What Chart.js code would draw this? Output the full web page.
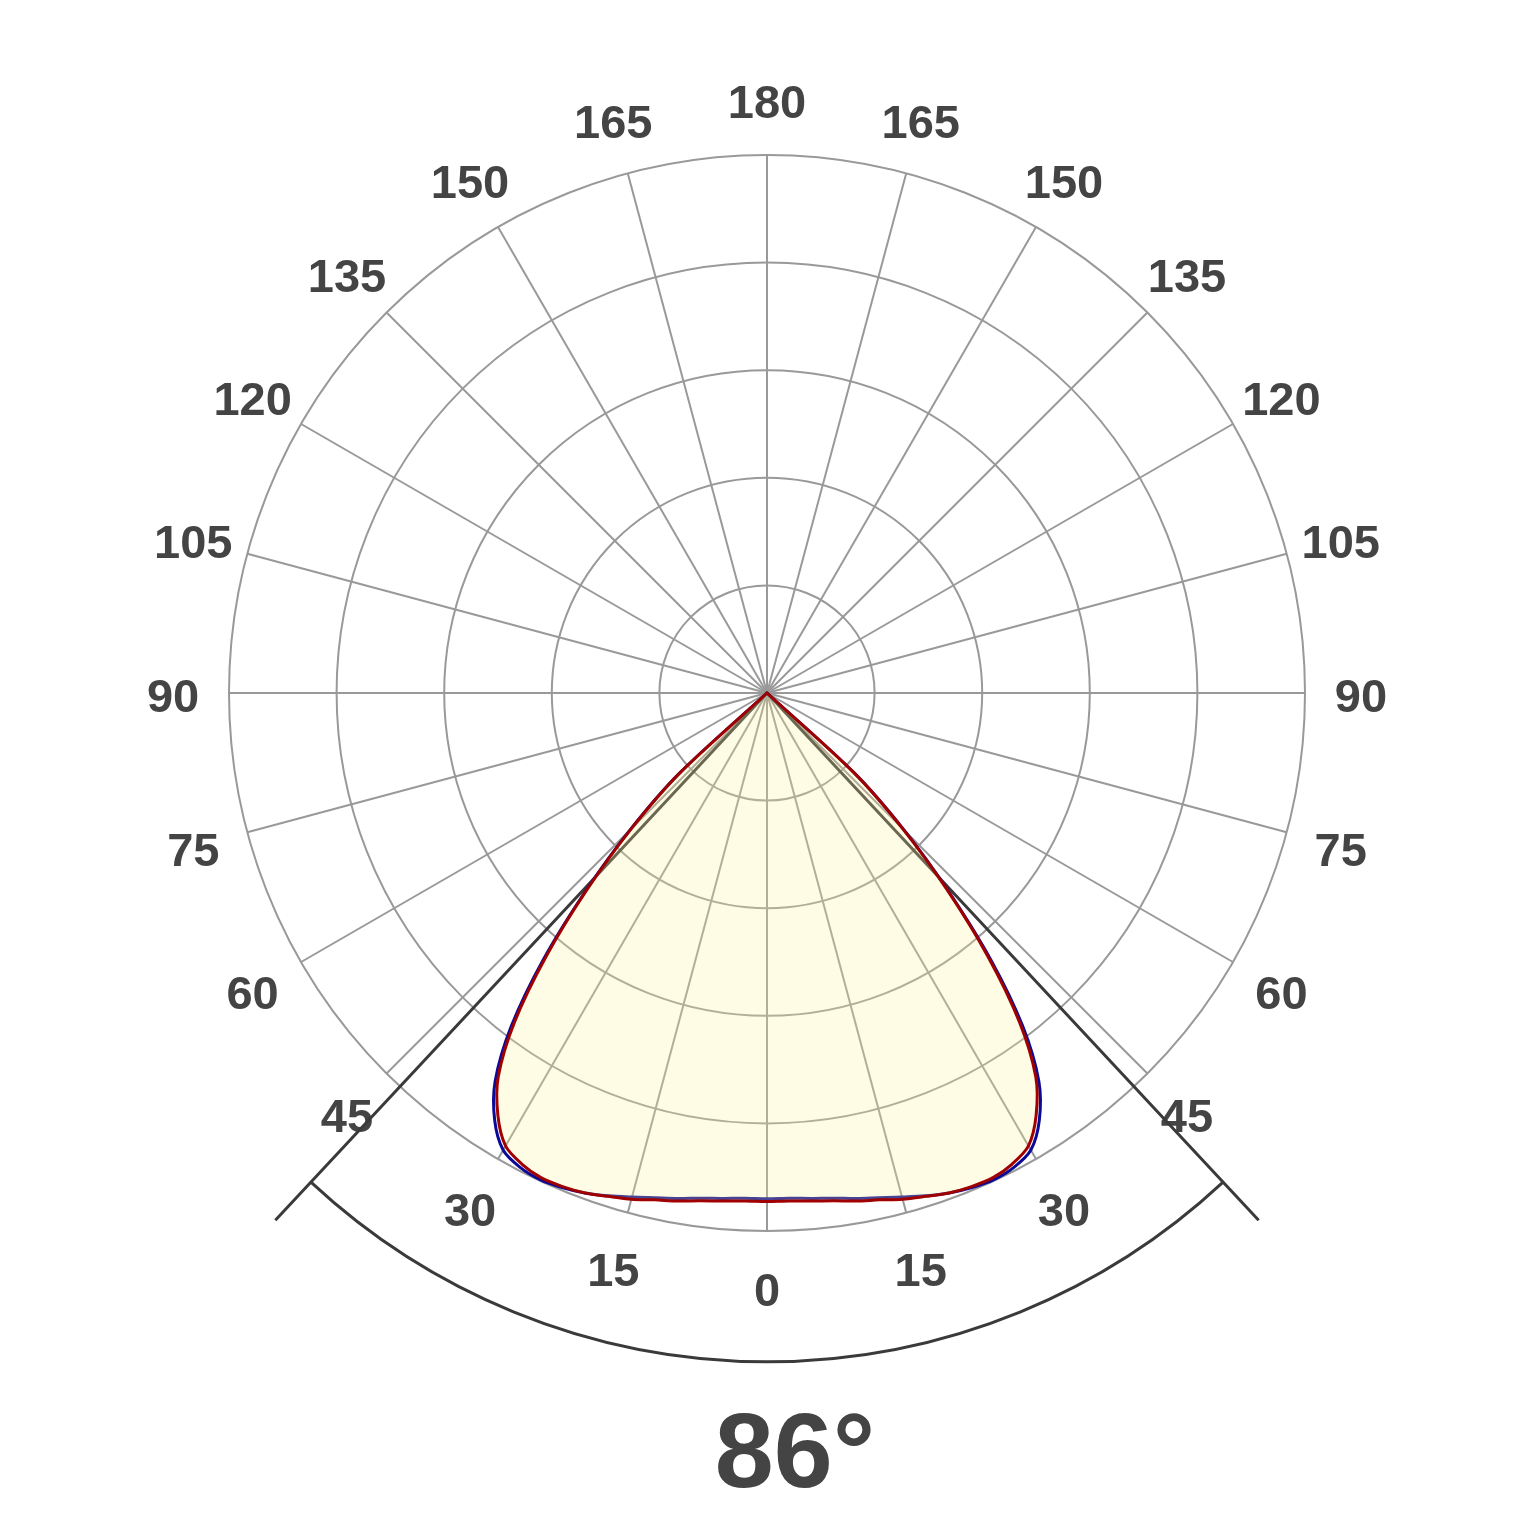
<!DOCTYPE html>
<html>
<head>
<meta charset="utf-8">
<title>Lichtverteilung</title>
<script src="https://cdn.jsdelivr.net/npm/chart.js@4.4.1/dist/chart.umd.min.js"></script>
<style>
  html, body { margin: 0; padding: 0; background: #fff; }
  canvas { display: block; }
</style>
</head>
<body>
<canvas id="myChart" width="1536" height="1536"></canvas>
<script>
// gamma (deg from nadir) and intensity, 100 = outer ring
var gamma = [0, 2.5, 5, 7.5, 10, 12.5, 15, 17.5, 20, 22.5, 25, 27.5, 30, 32.5, 35, 37.5, 40, 42.5, 45, 47.5, 50];
var c0 = [94.5, 94.5, 94.8, 95.2, 95.9, 96.5, 97.4, 98.1, 98.9, 99.3, 99.4, 98.7, 97.2, 93.1, 87.1, 77.1, 63.8, 49.4, 35.7, 21.9, 0];
var c90 = [94.0, 94.0, 94.3, 94.7, 95.4, 96.1, 97.0, 98.0, 98.9, 99.5, 99.8, 99.4, 98.1, 94.2, 88.1, 78.1, 64.7, 49.8, 36.1, 22.1, 0];

// spoke labels clockwise from the top, one every 15 deg
var spokeLabels = [180, 165, 150, 135, 120, 105, 90, 75, 60, 45, 30, 15, 0, 15, 30, 45, 60, 75, 90, 105, 120, 135, 150, 165];

var beamAngle = 86;

var step = 2.5;
var positions = [];
for (var a = 0; a < 360; a += step) positions.push(a);

function valueAt(series, pos) {
    var i = gamma.indexOf(Math.abs(180 - pos));
    return i >= 0 ? series[i] : 0;
}

var labels = positions.map(function (p) {
    return p % 15 === 0 ? String(spokeLabels[p / 15]) : '';
});

var labelFont = '"Liberation Sans", Arial, sans-serif';

// spoke labels, beam angle lines + arc + text
var beamPlugin = {
    id: 'beam',
    beforeDatasetsDraw: function (chart) {
        var s = chart.scales.r, c = chart.ctx;
        var R = s.drawingArea, x0 = s.xCenter, y0 = s.yCenter;
        var h = beamAngle / 2 * Math.PI / 180;
        c.save();

        // labels centred on the spokes
        c.fillStyle = '#444';
        c.font = 'bold 47px ' + labelFont;
        c.textAlign = 'center';
        c.textBaseline = 'middle';
        chart.data.labels.forEach(function (txt, i) {
            if (!txt) return;
            var p = s.getPointPosition(i, R * 1.104);
            c.fillText(txt, p.x, p.y + 6);
        });

        c.strokeStyle = '#3a3a3a';
        c.lineWidth = 3;
        c.beginPath();
        [-h, h].forEach(function (t) {
            c.moveTo(x0, y0);
            c.lineTo(x0 + Math.sin(t) * R * 1.34, y0 + Math.cos(t) * R * 1.34);
        });
        c.stroke();
        c.beginPath();
        c.arc(x0, y0, R * 1.243, Math.PI / 2 - h, Math.PI / 2 + h);
        c.stroke();
        c.restore();
    },
    afterDraw: function (chart) {
        var s = chart.scales.r, c = chart.ctx;
        c.save();
        c.fillStyle = '#444';
        c.font = 'bold 106px ' + labelFont;
        c.textAlign = 'center';
        c.textBaseline = 'alphabetic';
        c.fillText(beamAngle + '°', s.xCenter + 28, s.yCenter + s.drawingArea * 1.476);
        c.restore();
    }
};

var ctx = document.getElementById('myChart').getContext('2d');

var myChart = new Chart(ctx, {
    type: 'radar',
    data: {
        labels: labels,
        datasets: [{
            label: 'C0-C180',
            data: positions.map(function (p) { return valueAt(c0, p); }),
            borderColor: '#a00000',
            borderWidth: 3,
            backgroundColor: 'rgba(255, 245, 150, 0.25)',
            fill: true,
            pointRadius: 0,
            tension: 0.3
        }, {
            label: 'C90-C270',
            data: positions.map(function (p) { return valueAt(c90, p); }),
            borderColor: '#0a0a96',
            borderWidth: 3,
            fill: false,
            pointRadius: 0,
            tension: 0.3
        }]
    },
    options: {
        responsive: false,
        animation: false,
        devicePixelRatio: 1,
        layout: { padding: { left: 229, right: 231, top: 155, bottom: 305 } },
        plugins: {
            legend: { display: false },
            tooltip: { enabled: false }
        },
        scales: {
            r: {
                min: 0,
                max: 100,
                ticks: { display: false, stepSize: 20 },
                grid: { circular: true, color: '#999', lineWidth: 2 },
                angleLines: {
                    color: '#999',
                    lineWidth: function (c) { return c.index % 6 === 0 ? 2 : 0; }
                },
                pointLabels: { display: false }
            }
        }
    },
    plugins: [beamPlugin]
});
</script>
</body>
</html>
